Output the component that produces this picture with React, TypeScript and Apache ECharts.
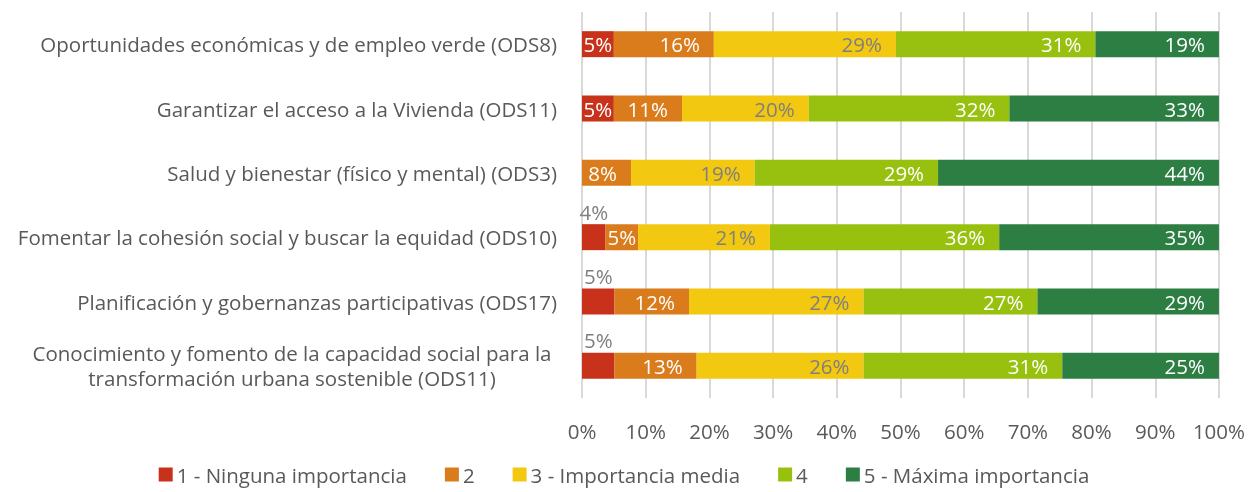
import React, { useEffect, useRef } from "react";
import * as echarts from "echarts";

const categories = [
  "Oportunidades económicas y de empleo verde (ODS8)",
  "Garantizar el acceso a la Vivienda (ODS11)",
  "Salud y bienestar (físico y mental) (ODS3)",
  "Fomentar la cohesión social y buscar la equidad (ODS10)",
  "Planificación y gobernanzas participativas (ODS17)",
  "Conocimiento y fomento de la capacidad social para la\ntransformación urbana sostenible (ODS11)",
];

const seriesNames = [
  "1 - Ninguna importancia",
  "2",
  "3 - Importancia media",
  "4",
  "5 - Máxima importancia",
];

const level1 = [5.0, 5.0, 0, 3.7, 5.1, 5.1];
const level2 = [15.7, 10.7, 7.7, 5.1, 11.7, 12.9];
const level3 = [28.6, 19.9, 19.4, 20.7, 27.4, 26.2];
const level4 = [31.3, 31.5, 28.8, 36.0, 27.3, 31.2];
const level5 = [19.4, 32.9, 44.1, 34.5, 28.5, 24.6];

const xTicks = [0, 10, 20, 30, 40, 50, 60, 70, 80, 90, 100];

// presentation: which red labels sit above the bar (as in the reference)
const redLabelAbove = [false, false, false, true, true, true];

const colors = ["#C8321B", "#DA7B1C", "#F2C811", "#98C00E", "#2D7E43"];
const labelColors = ["#FFFFFF", "#FFFFFF", "#7F7F7F", "#FFFFFF", "#FFFFFF"];
const FONT = "Open Sans";
const FS = 20.5;

export default function App() {
  const ref = useRef<HTMLDivElement>(null);
  useEffect(() => {
    if (!ref.current) return;
    const chart = echarts.init(ref.current, null, { renderer: "svg" });
    const all = [level1, level2, level3, level4, level5];
    const series = all.map((vals, si) => ({
      name: seriesNames[si],
      type: "bar",
      stack: "total",
      barWidth: 26,
      itemStyle: { color: colors[si] },
      label: {
        show: true,
        position: "insideRight",
        distance: 14,
        color: labelColors[si],
        fontFamily: FONT,
        fontSize: FS,
        formatter: (p: any) => (p.value > 0 ? Math.round(p.value) + "%" : ""),
      },
      data: vals.map((v, i) => {
        if (si === 0 && redLabelAbove[i]) {
          return { value: v, label: { position: "top", distance: 2, color: "#7F7F7F" } };
        }
        if (v < 7) {
          return { value: v, label: { position: "inside" } };
        }
        return { value: v };
      }),
    }));
    chart.setOption({
      animation: false,
      color: colors,
      textStyle: { fontFamily: FONT },
      grid: { left: 582, right: 28, top: 12, bottom: 94, containLabel: false },
      legend: {
        top: 459,
        left: "center",
        itemWidth: 14,
        itemHeight: 14,
        itemGap: 38,
        icon: "rect",
        textStyle: {
          color: "#595959",
          fontFamily: FONT,
          fontSize: FS,
          padding: [0, 0, 0, -1],
        },
        data: seriesNames,
      },
      xAxis: {
        type: "value",
        min: xTicks[0],
        max: xTicks[xTicks.length - 1],
        interval: 10,
        axisLine: { show: false },
        axisTick: { show: false },
        splitLine: { show: true, lineStyle: { color: "#D9D9D9", width: 2 } },
        axisLabel: {
          color: "#595959",
          fontFamily: FONT,
          fontSize: FS,
          margin: 22,
          formatter: (v: number) => v + "%",
        },
      },
      yAxis: {
        type: "category",
        inverse: true,
        data: categories,
        axisLine: { show: false },
        axisTick: { show: false },
        axisLabel: {
          color: "#595959",
          fontFamily: FONT,
          fontSize: FS,
          margin: 25,
          lineHeight: 25,
          formatter: (v: string) =>
            v.includes("\n")
              ? v
                  .split("\n")
                  .map((l) => "{c|" + l + "}")
                  .join("\n")
              : v,
          rich: {
            c: {
              width: 530,
              align: "center",
              color: "#595959",
              fontFamily: FONT,
              fontSize: FS,
              lineHeight: 25,
            },
          },
        },
      },
      series,
    });
    return () => chart.dispose();
  }, []);
  return (
    <div
      ref={ref}
      style={{ position: "fixed", left: 0, top: 0, width: 1248, height: 492 }}
    />
  );
}
